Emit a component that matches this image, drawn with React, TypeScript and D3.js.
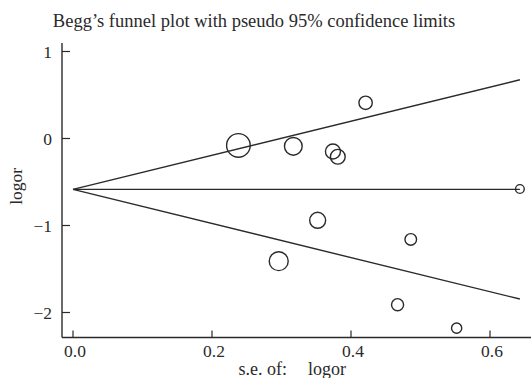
import React from "react";
import * as d3 from "d3";

// study estimates
const se = [0.238, 0.317, 0.374, 0.381, 0.421, 0.643, 0.352, 0.296, 0.486, 0.467, 0.552];
const logor = [-0.08, -0.09, -0.15, -0.21, 0.41, -0.58, -0.94, -1.41, -1.16, -1.91, -2.18];
const pooled = -0.585;
const xTicks = [0.0, 0.2, 0.4, 0.6];
const yTicks = [1, 0, -1, -2];

const W = 531;
const H = 378;
const ink = "#2a2a2a";
const font = "'Liberation Serif', 'DejaVu Serif', serif";

export default function App() {
  const x = d3.scaleLinear().domain([0, 0.6]).range([73, 490]);
  const y = d3.scaleLinear().domain([1, -2]).range([51.5, 312.5]);
  const x0 = 62;
  const yBottom = 337.5;
  const yTop = 43;

  const weights = se.map((s) => 1 / (s * s));
  const r = d3
    .scaleSqrt()
    .domain([0, d3.max(weights) as number])
    .range([0, 11.8]);

  const seMax = d3.max(se) as number;
  const line = d3
    .line<[number, number]>()
    .x((d) => x(d[0]))
    .y((d) => y(d[1]));
  const upper: [number, number][] = [
    [0, pooled],
    [seMax, pooled + 1.96 * seMax],
  ];
  const lower: [number, number][] = [
    [0, pooled],
    [seMax, pooled - 1.96 * seMax],
  ];
  const mid: [number, number][] = [
    [0, pooled],
    [seMax, pooled],
  ];

  return (
    <svg
      width={W}
      height={H}
      style={{ position: "absolute", left: 0, top: 0, background: "#fff" }}
      fontFamily={font}
    >
      <rect width={W} height={H} fill="#fff" />
      <text x={254} y={27} textAnchor="middle" fontSize={18.5} fill={ink}>
        Begg’s funnel plot with pseudo 95% confidence limits
      </text>

      {/* axes */}
      <line x1={x0} x2={x0} y1={yTop} y2={yBottom} stroke={ink} strokeWidth={1.4} />
      <line x1={x0} x2={W} y1={yBottom} y2={yBottom} stroke={ink} strokeWidth={1.4} />
      {yTicks.map((t) => (
        <g key={t}>
          <line x1={x0} x2={x0 + 8} y1={y(t)} y2={y(t)} stroke={ink} strokeWidth={1.2} />
          <text x={52} y={y(t) + 6} textAnchor="end" fontSize={17.5} fill={ink}>
            {t < 0 ? "\u2212" + Math.abs(t) : t}
          </text>
        </g>
      ))}
      {xTicks.map((t) => (
        <g key={t}>
          <line x1={x(t)} x2={x(t)} y1={yBottom} y2={yBottom - 7} stroke={ink} strokeWidth={1.2} />
          <text x={x(t) + 2} y={357} textAnchor="middle" fontSize={17.5} fill={ink}>
            {t.toFixed(1)}
          </text>
        </g>
      ))}
      <text
        transform={`translate(22,${y(-0.55)}) rotate(-90)`}
        textAnchor="middle"
        fontSize={17.5}
        fill={ink}
      >
        logor
      </text>
      <text x={287} y={375} textAnchor="end" fontSize={18} fill={ink}>
        s.e. of:
      </text>
      <text x={308} y={375} textAnchor="start" fontSize={18} fill={ink}>
        logor
      </text>

      {/* pseudo confidence limits */}
      {[upper, mid, lower].map((pts, i) => (
        <path key={i} d={line(pts) as string} fill="none" stroke={ink} strokeWidth={1.4} />
      ))}

      {/* studies */}
      {se.map((s, i) => (
        <circle
          key={i}
          cx={x(s)}
          cy={y(logor[i])}
          r={r(weights[i])}
          fill="none"
          stroke={ink}
          strokeWidth={1.4}
        />
      ))}
    </svg>
  );
}
